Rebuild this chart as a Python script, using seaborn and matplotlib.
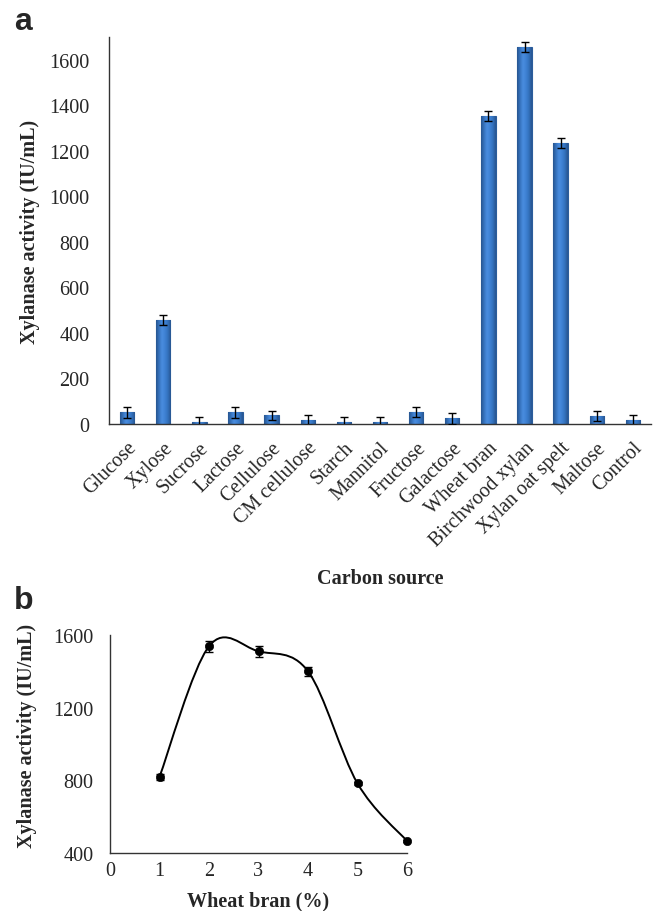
import numpy as np
import matplotlib
matplotlib.use("Agg")
import matplotlib.pyplot as plt
from matplotlib.path import Path
from matplotlib.patches import PathPatch
from matplotlib.colors import LinearSegmentedColormap
import seaborn as sns
import pandas as pd

# ---- Data: panel a ----
categories = ["Glucose", "Xylose", "Sucrose", "Lactose", "Cellulose", "CM cellulose",
              "Starch", "Mannitol", "Fructose", "Galactose", "Wheat bran",
              "Birchwood xylan", "Xylan oat spelt", "Maltose", "Control"]
activity = [51, 458, 10, 51, 38, 18, 10, 10, 53, 25, 1355, 1656, 1235, 34, 16]
activity_err = [24, 23, 22, 23, 21, 22, 22, 22, 23, 24, 22, 20, 22, 23, 22]
yticks_a = [0, 200, 400, 600, 800, 1000, 1200, 1400, 1600]

# ---- Data: panel b ----
bran_pct = [1, 2, 3, 4, 5, 6]
bran_activity = [819, 1538, 1510, 1400, 783, 466]
bran_err = [15, 30, 30, 25, 10, 6]
yticks_b = [400, 800, 1200, 1600]
xticks_b = [0, 1, 2, 3, 4, 5, 6]

sns.set_style("white")
plt.rcParams['font.family'] = ['Liberation Serif', 'DejaVu Serif']

fig = plt.figure(figsize=(6.54, 9.12), dpi=100)

W, H = 654, 912
def ax_rect(l, t, r, b):
    return [l / W, 1 - b / H, (r - l) / W, (b - t) / H]

# ---------- Panel a ----------
ax1 = fig.add_axes(ax_rect(109, 38, 651, 425))
df_a = pd.DataFrame({"cat": categories, "val": activity})
sns.barplot(data=df_a, x="cat", y="val", color="#3b7bcb", saturation=1,
            width=0.4, ax=ax1, errorbar=None, edgecolor="#2b5d9c", linewidth=0.8)

# glossy gradient fill clipped to each bar
grad_cmap = LinearSegmentedColormap.from_list(
    "barg", ["#27558f", "#3572bd", "#4a8ddf", "#3f82d4", "#3371bd", "#27558f"])
grad = np.linspace(0, 1, 64).reshape(1, -1)
for p in list(ax1.patches):
    x0, w, h = p.get_x(), p.get_width(), p.get_height()
    im = ax1.imshow(grad, extent=[x0, x0 + w, 0, h], aspect="auto", cmap=grad_cmap,
                    origin="lower", zorder=p.get_zorder() + 0.1, interpolation="bicubic")
    im.set_clip_path(p)

ax1.errorbar(np.arange(len(categories)), activity, yerr=activity_err, fmt="none",
             ecolor="black", elinewidth=1.0, capsize=2.8, capthick=1.0, zorder=5)
ax1.set_xlim(-0.5, len(categories) - 0.5)
ax1.set_ylim(0, 1700)
ax1.set_aspect("auto")
ax1.set_yticks(yticks_a)
ax1.set_yticklabels([str(v) for v in yticks_a], fontsize=14.5)
ax1.set_xticks(np.arange(len(categories)))
ax1.set_xticklabels(categories, rotation=45, ha="right", rotation_mode="anchor", fontsize=14.5)
ax1.tick_params(axis="y", direction="out", length=3, width=0.8, pad=11, color="#333333")
ax1.tick_params(axis="x", length=0, pad=10)
for s in ["top", "right"]:
    ax1.spines[s].set_visible(False)
for s in ["left", "bottom"]:
    ax1.spines[s].set_color("#333333")
    ax1.spines[s].set_linewidth(1.0)
ax1.set_xlabel("Carbon source", fontsize=14.5, fontweight="bold", labelpad=13)
ax1.set_ylabel("Xylanase activity (IU/mL)", fontsize=14.5, fontweight="bold", labelpad=7)

fig.text(23 / W, 1 - 22 / H, "a", fontsize=23, fontweight="bold",
         family=["Liberation Sans", "DejaVu Sans"], ha="center", va="center")

# ---------- Panel b ----------
ax2 = fig.add_axes(ax_rect(110, 636, 407, 854))
ax2.set_xlim(0, 6)
ax2.set_ylim(400, 1600)

# smooth curve (Catmull-Rom Bezier through the data points)
xs = np.array(bran_pct, dtype=float)
ys = np.array(bran_activity, dtype=float)
n = len(xs)
verts = [(xs[0], ys[0])]
codes = [Path.MOVETO]
for i in range(n - 1):
    p0 = (xs[max(i - 1, 0)], ys[max(i - 1, 0)])
    p1 = (xs[i], ys[i])
    p2 = (xs[i + 1], ys[i + 1])
    p3 = (xs[min(i + 2, n - 1)], ys[min(i + 2, n - 1)])
    c1 = (p1[0] + (p2[0] - p0[0]) / 6, p1[1] + (p2[1] - p0[1]) / 6)
    c2 = (p2[0] - (p3[0] - p1[0]) / 6, p2[1] - (p3[1] - p1[1]) / 6)
    verts += [c1, c2, p2]
    codes += [Path.CURVE4] * 3
ax2.add_patch(PathPatch(Path(verts, codes), fill=False, edgecolor="black", lw=1.4, zorder=2))

ax2.errorbar(bran_pct, bran_activity, yerr=bran_err, fmt="none", ecolor="black",
             elinewidth=1.0, capsize=3, capthick=1.0, zorder=3)
df_b = pd.DataFrame({"pct": bran_pct, "act": bran_activity})
sns.scatterplot(data=df_b, x="pct", y="act", color="black", s=36, marker="o",
                edgecolor="black", ax=ax2, zorder=4, clip_on=False)

ax2.set_xticks(xticks_b)
ax2.set_xticklabels([str(v) for v in xticks_b], fontsize=14.5)
ax2.set_yticks(yticks_b)
ax2.set_yticklabels([str(v) for v in yticks_b], fontsize=14.5)
ax2.tick_params(axis="both", direction="in", length=4, width=0.8, color="#333333")
ax2.tick_params(axis="y", pad=12)
ax2.tick_params(axis="x", pad=6)
for s in ["top", "right"]:
    ax2.spines[s].set_visible(False)
for s in ["left", "bottom"]:
    ax2.spines[s].set_color("#333333")
    ax2.spines[s].set_linewidth(1.0)
ax2.set_xlabel("Wheat bran (%)", fontsize=14.5, fontweight="bold", labelpad=7)
ax2.set_ylabel("Xylanase activity (IU/mL)", fontsize=14.5, fontweight="bold")
ax2.yaxis.set_label_coords(-0.246, 0.54)

fig.text(24 / W, 1 - 601 / H, "b", fontsize=23, fontweight="bold",
         family=["Liberation Sans", "DejaVu Sans"], ha="center", va="center")

fig.savefig("out.png", dpi=100)
